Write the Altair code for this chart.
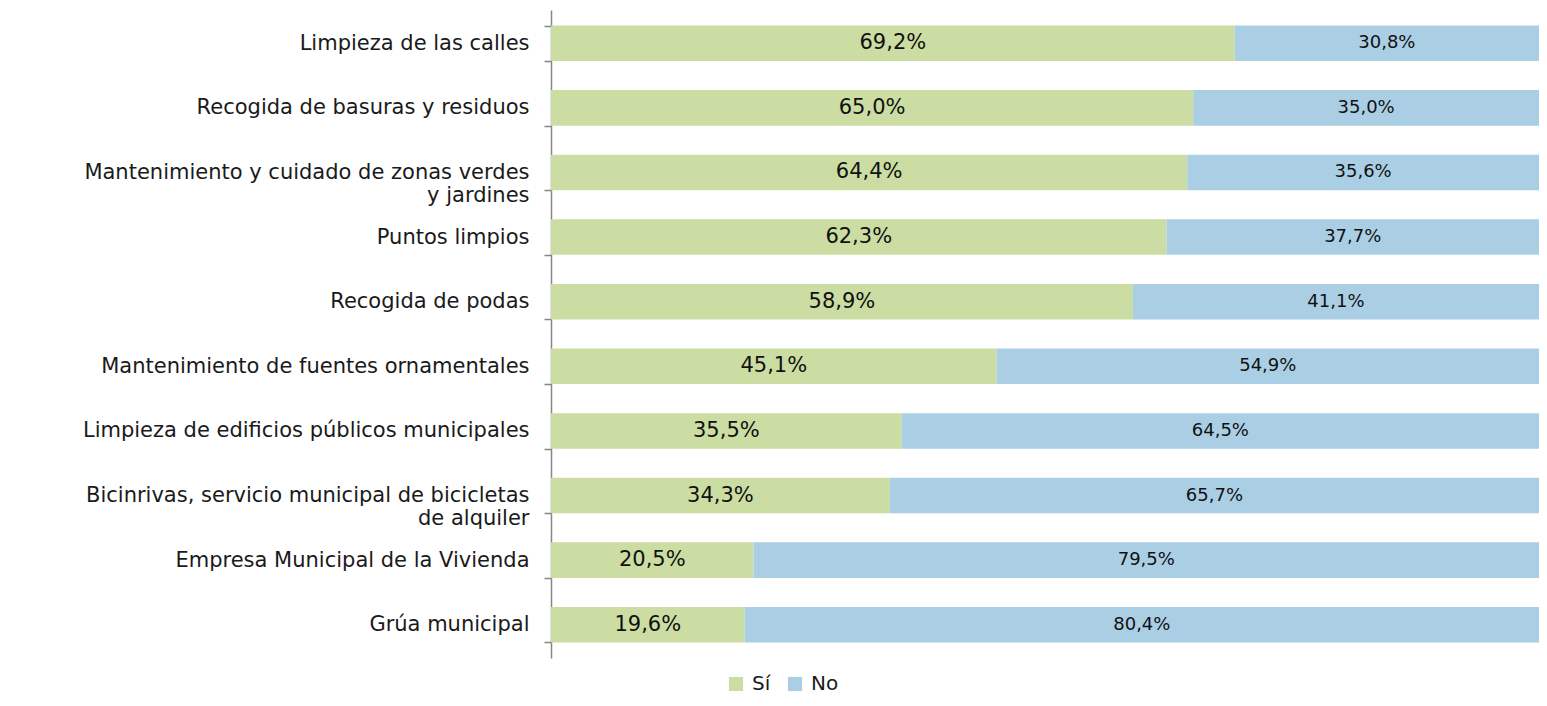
import altair as alt
import pandas as pd

categories = [
    "Limpieza de las calles",
    "Recogida de basuras y residuos",
    "Mantenimiento y cuidado de zonas verdes\ny jardines",
    "Puntos limpios",
    "Recogida de podas",
    "Mantenimiento de fuentes ornamentales",
    "Limpieza de edificios públicos municipales",
    "Bicinrivas, servicio municipal de bicicletas\nde alquiler",
    "Empresa Municipal de la Vivienda",
    "Grúa municipal",
]
si = [69.2, 65.0, 64.4, 62.3, 58.9, 45.1, 35.5, 34.3, 20.5, 19.6]
no = [30.8, 35.0, 35.6, 37.7, 41.1, 54.9, 64.5, 65.7, 79.5, 80.4]
series = ["Sí", "No"]
colors = ["#CBDDA2", "#AACFE5"]

rows = []
for c, a, b in zip(categories, si, no):
    for k, (s, v) in enumerate(zip(series, [a, b])):
        rows.append({"cat": c, "serie": s, "value": v, "ord": k,
                     "label": f"{v:.1f}".replace(".", ",") + "%"})
df = pd.DataFrame(rows)

FONT = "DejaVu Sans"

base = alt.Chart(df).transform_stack(
    stack="value", groupby=["cat"], as_=["start", "end"],
    sort=[alt.SortField("ord", order="ascending")]
).transform_calculate(mid="(datum.start + datum.end) / 2")

yenc = alt.Y("cat:N", sort=categories, title=None,
             scale=alt.Scale(paddingInner=0.45, paddingOuter=0.24),
             axis=alt.Axis(labelExpr="split(datum.label, '\\n')",
                           labelFont=FONT, labelFontSize=21, labelColor="#1a1a1a",
                           labelLineHeight=23, labelPadding=15, labelLimit=0,
                           domainColor="#868686", domainWidth=1.5,
                           tickColor="#868686", tickWidth=1.5, tickSize=7,
                           tickBand="extent"))

bars = base.mark_bar().encode(
    y=yenc,
    x=alt.X("start:Q", scale=alt.Scale(domain=[0, 100]), axis=None),
    x2="end:Q",
    color=alt.Color("serie:N", scale=alt.Scale(domain=series, range=colors),
                    legend=alt.Legend(title=None, orient="none", legendX=175, legendY=664,
                                      direction="horizontal", symbolType="square",
                                      symbolSize=200, symbolStrokeWidth=0,
                                      labelFont=FONT, labelFontSize=20, labelColor="#1a1a1a",
                                      labelOffset=6, columnPadding=14, padding=0)),
)

txt_si = base.transform_filter("datum.serie == 'Sí'").mark_text(
    font=FONT, fontSize=21, color="#111111").encode(
    y=alt.Y("cat:N", sort=categories), x="mid:Q", text="label:N")

txt_no = base.transform_filter("datum.serie == 'No'").mark_text(
    font=FONT, fontSize=18, color="#111111").encode(
    y=alt.Y("cat:N", sort=categories), x="mid:Q", text="label:N")

chart = alt.layer(bars, txt_si, txt_no).properties(
    width=988, height=648,
    autosize=alt.AutoSizeParams(type="none"),
    padding={"top": 2, "left": 543, "right": 0, "bottom": 36},
).configure_view(stroke=None)

chart.save("out.html", embed_options={"renderer": "svg", "actions": False})
